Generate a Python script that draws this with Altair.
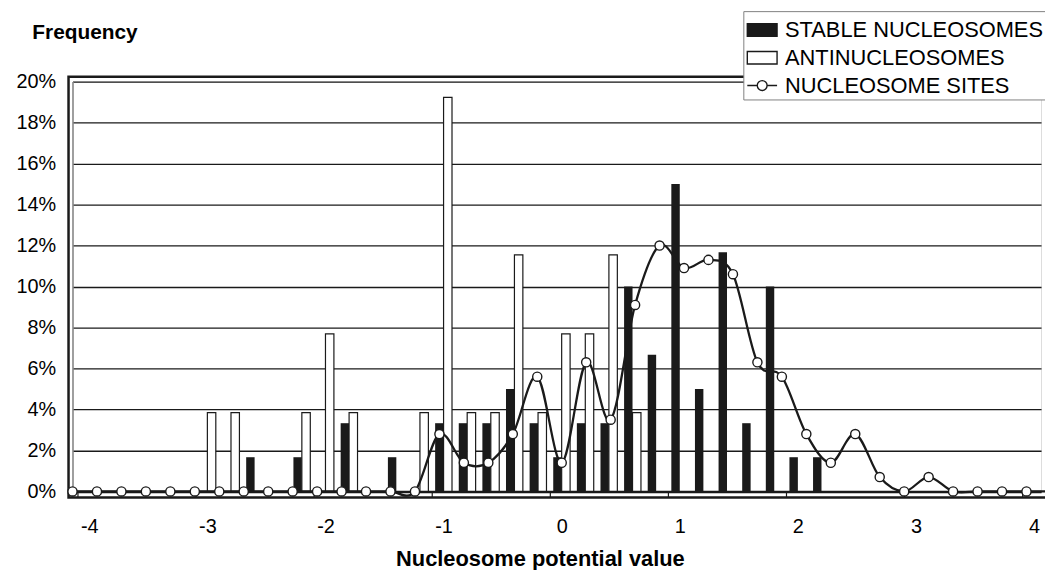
import altair as alt
import pandas as pd

# ---- data (percent values) ----
BINS = [-4.0, -3.8, -3.6, -3.4, -3.2, -3.0, -2.8, -2.6, -2.4, -2.2,
        -2.0, -1.8, -1.6, -1.4, -1.2, -1.0, -0.8, -0.6, -0.4, -0.2,
        0.0, 0.2, 0.4, 0.6, 0.8, 1.0, 1.2, 1.4, 1.6, 1.8,
        2.0, 2.2, 2.4, 2.6, 2.8, 3.0, 3.2, 3.4, 3.6, 3.8, 4.0]
STABLE = [0, 0, 0, 0, 0, 0, 0, 1.67, 0, 1.67,
          0, 3.33, 0, 1.67, 0, 3.33, 3.33, 3.33, 5.0, 3.33,
          1.67, 3.33, 3.33, 10.0, 6.67, 15.0, 5.0, 11.67, 3.33, 10.0,
          1.67, 1.67, 0, 0, 0, 0, 0, 0, 0, 0, 0]
ANTI = [0, 0, 0, 0, 0, 3.85, 3.85, 0, 0, 3.85,
        7.69, 3.85, 0, 0, 3.85, 19.23, 3.85, 3.85, 11.54, 3.85,
        7.69, 7.69, 11.54, 3.85, 0, 0, 0, 0, 0, 0,
        0, 0, 0, 0, 0, 0, 0, 0, 0, 0, 0]
SITES = [0, 0, 0, 0, 0, 0, 0, 0, 0, 0,
         0, 0, 0, 0, 0, 2.8, 1.4, 1.4, 2.8, 5.6,
         1.4, 6.3, 3.5, 9.1, 12.0, 10.9, 11.3, 10.6, 6.3, 5.6,
         2.8, 1.4, 2.8, 0.7, 0, 0.7, 0, 0, 0, 0, 0]
SERIES = ["STABLE NUCLEOSOMES", "ANTINUCLEOSOMES", "NUCLEOSOME SITES"]
X_TICKS = [-4, -3, -2, -1, 0, 1, 2, 3, 4]
Y_TICKS = [0, 2, 4, 6, 8, 10, 12, 14, 16, 18, 20]

df = pd.DataFrame({"bin": BINS, "stable": STABLE, "anti": ANTI, "sites": SITES})
leg_df = pd.DataFrame({"series": SERIES})

W, H = 976, 413
FONT = "Liberation Sans"
INK = "#1a1a1a"

# bars sit in the middle of each category, line points on the category boundaries
bar_x = alt.Scale(domain=[-4.1, 4.017], nice=False, zero=False)
site_x = alt.Scale(domain=[-4.0, 3.919], nice=False, zero=False)
yscale = alt.Scale(domain=[0, 20], nice=False)

x_axis = alt.Axis(values=X_TICKS, labelExpr="'' + datum.value",
                  tickOffset=-12, labelOffset=12, tickSize=6, tickColor=INK,
                  tickWidth=1.2, labelPadding=19, labelFontSize=20, labelFont=FONT,
                  labelColor="black", domainColor=INK, domainWidth=2.5, grid=False,
                  title="Nucleosome potential value", titleFont=FONT, titleFontSize=22,
                  titleFontWeight="bold", titleColor="black", titleX=471, titleY=75,
                  titleBaseline="alphabetic", titleAlign="center")


def y_axis():
    return alt.Axis(values=Y_TICKS, labelExpr="datum.value + '%'", ticks=False,
                    labelPadding=17, labelFontSize=20, labelFont=FONT, labelColor="black",
                    domainColor="#8a8a8a", domainWidth=1.6, grid=True, gridColor=INK,
                    gridWidth=1.3, title="Frequency", titleAngle=0, titleAlign="left",
                    titleBaseline="alphabetic", titleX=-41, titleY=-43, titleFont=FONT,
                    titleFontSize=21, titleFontWeight="bold", titleColor="black")


frame = alt.Chart(pd.DataFrame({"k": [0]})).mark_rect(
    fillOpacity=0, stroke=INK, strokeWidth=2.5
).encode(x=alt.value(-4), x2=alt.value(W + 40), y=alt.value(-5), y2=alt.value(H + 6))

stable = alt.Chart(df).transform_filter("datum.stable > 0").mark_bar(
    width=8.5, xOffset=-4.25, color=INK
).encode(
    x=alt.X("bin:Q", scale=bar_x, axis=x_axis),
    y=alt.Y("stable:Q", scale=yscale, axis=y_axis()),
)

anti = alt.Chart(df).transform_filter("datum.anti > 0").mark_bar(
    width=8.5, xOffset=4.25, fill="white", stroke=INK, strokeWidth=1.2
).encode(
    x=alt.X("bin:Q", scale=bar_x, axis=None),
    y=alt.Y("anti:Q", scale=yscale, axis=y_axis()),
)

line = alt.Chart(df).mark_line(color=INK, strokeWidth=2.3, interpolate="cardinal").encode(
    x=alt.X("bin:Q", scale=site_x, axis=None),
    y=alt.Y("sites:Q", scale=yscale, axis=y_axis()),
)

pts = alt.Chart(df).mark_point(
    filled=True, fill="white", stroke=INK, strokeWidth=1.4, size=85, opacity=1
).encode(
    x=alt.X("bin:Q", scale=site_x, axis=None),
    y=alt.Y("sites:Q", scale=yscale, axis=y_axis()),
)

RECT = "M-1,-0.42H1V0.42H-1Z"
LINE_CIRCLE = ("M-1,0H-0.33M0.33,0H1M0.33,0A0.33,0.33 0 1 1 -0.33,0"
               "A0.33,0.33 0 1 1 0.33,0Z")
legend = alt.Legend(orient="none", legendX=676, legendY=-71, title=None,
                    fillColor="white", strokeColor="#808080", padding=3,
                    symbolSize=900, symbolStrokeColor=INK, symbolStrokeWidth=1.4,
                    symbolOpacity=1, labelFontSize=22, labelFont=FONT,
                    labelColor="black", labelOffset=7, rowPadding=1, labelLimit=400)

# legend-carrying points sit underneath the (white) legend box
leg = alt.Chart(leg_df).mark_point(
    filled=True, strokeWidth=1.4, size=1
).encode(
    x=alt.value(700), y=alt.value(-40),
    fill=alt.Fill("series:N", scale=alt.Scale(domain=SERIES, range=[INK, "white", "white"]),
                  legend=legend),
    stroke=alt.Stroke("series:N", scale=alt.Scale(domain=SERIES, range=[INK, INK, INK]),
                      legend=legend),
    shape=alt.Shape("series:N", scale=alt.Scale(domain=SERIES, range=[RECT, RECT, LINE_CIRCLE]),
                    legend=legend),
)

chart = alt.layer(frame, stable, anti, line, pts, leg).resolve_scale(
    x="independent"
).properties(
    width=W, height=H,
    autosize=alt.AutoSizeParams(type="none"),
    padding={"left": 65, "top": 72, "right": 4, "bottom": 77},
).configure_view(strokeWidth=0).configure(background="white")

chart.save("out.html", embed_options={"renderer": "svg", "actions": False})
